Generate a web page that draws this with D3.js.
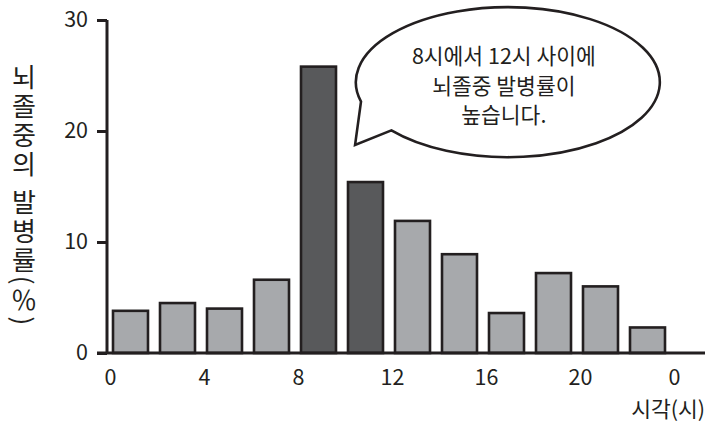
<!DOCTYPE html>
<html><head><meta charset="utf-8">
<script src="https://cdn.jsdelivr.net/npm/d3@7"></script>
<style>
html,body{margin:0;padding:0;background:#fff;}
text{font-family:"Noto Sans CJK KR","Noto Sans",sans-serif;fill:#231f20;}
</style></head>
<body>
<svg id="c" width="722" height="431"></svg>
<script>
const binStarts = [0,2,4,6,8,10,12,14,16,18,20,22];
const values = [3.8,4.5,4.0,6.6,25.8,15.4,11.9,8.9,3.6,7.2,6.0,2.3];
const highlight = [false,false,false,false,true,true,false,false,false,false,false,false];
const xTicks = [0,4,8,12,16,20,24];
const xTickLabels = ["0","4","8","12","16","20","0"];
const yTicks = [0,10,20,30];
const yTitle = "뇌졸중의 발병률(％)";
const xTitle = "시각(시)";
const bubbleLines = ["8시에서 12시 사이에","뇌졸중 발병률이","높습니다."];

const ink = "#231f20", light = "#a7a9ac", dark = "#58595b";
const svg = d3.select("#c");
const x = d3.scaleLinear().domain([0,24]).range([109.5,673.5]);
const y = d3.scaleLinear().domain([0,30]).range([353,20]);
const axisLeftX = 107;

// bars
const barW = (x(2)-x(0)) - 12;
svg.append("g").selectAll("rect").data(values).join("rect")
  .attr("x",(d,i)=>x(binStarts[i])+3.5)
  .attr("y",d=>y(d))
  .attr("width",barW)
  .attr("height",d=>y(0)-y(d))
  .attr("fill",(d,i)=>highlight[i]?dark:light)
  .attr("stroke",ink).attr("stroke-width",2.6);

// y axis
const ya = svg.append("g").attr("transform",`translate(${axisLeftX},0)`)
  .call(d3.axisLeft(y).tickValues(yTicks).tickSize(10).tickPadding(9));
ya.select(".domain").attr("d",`M0,${y(30)}V${y(0)}`).attr("stroke",ink).attr("stroke-width",3);
ya.selectAll(".tick line").attr("stroke",ink).attr("stroke-width",3);
ya.selectAll(".tick text").attr("font-size",21.5).attr("font-family",null).attr("fill",ink).attr("dy","0.3em");

// x axis baseline
svg.append("line").attr("x1",97).attr("x2",705).attr("y1",y(0)).attr("y2",y(0))
  .attr("stroke",ink).attr("stroke-width",3);
svg.append("g").selectAll("text").data(xTicks).join("text")
  .attr("x",d=>x(d)+1).attr("y",y(0)+32)
  .attr("text-anchor","middle").attr("font-size",21.5)
  .text((d,i)=>xTickLabels[i]);

// x title
svg.append("text").attr("x",705).attr("y",417).attr("text-anchor","end")
  .attr("font-size",21.5).text(xTitle);

// y title vertical
svg.append("text").attr("x",24).attr("y",64)
  .attr("font-size",26)
  .attr("letter-spacing",3)
  .style("writing-mode","vertical-rl")
  .style("text-orientation","mixed")
  .text(yTitle);

// speech bubble
const cx = x(16.95), cy = y(24.4), rx = 152, ry = 75;
const pt = a => [cx+rx*Math.cos(a*Math.PI/180), cy+ry*Math.sin(a*Math.PI/180)];
const A = pt(165), B = pt(140);
const tip = [x(10.45), y(18.75)];
svg.append("path")
  .attr("d",`M${B[0]},${B[1]}A${rx},${ry} 0 1 0 ${A[0]},${A[1]}L${tip[0]},${tip[1]}Z`)
  .attr("fill","#fff").attr("stroke",ink).attr("stroke-width",2.6).attr("stroke-linejoin","miter");
svg.append("g").selectAll("text").data(bubbleLines).join("text")
  .attr("x",cx-4).attr("y",(d,i)=>64+i*29.5)
  .attr("text-anchor","middle").attr("font-size",21.5)
  .text(d=>d);
</script>
</body></html>
